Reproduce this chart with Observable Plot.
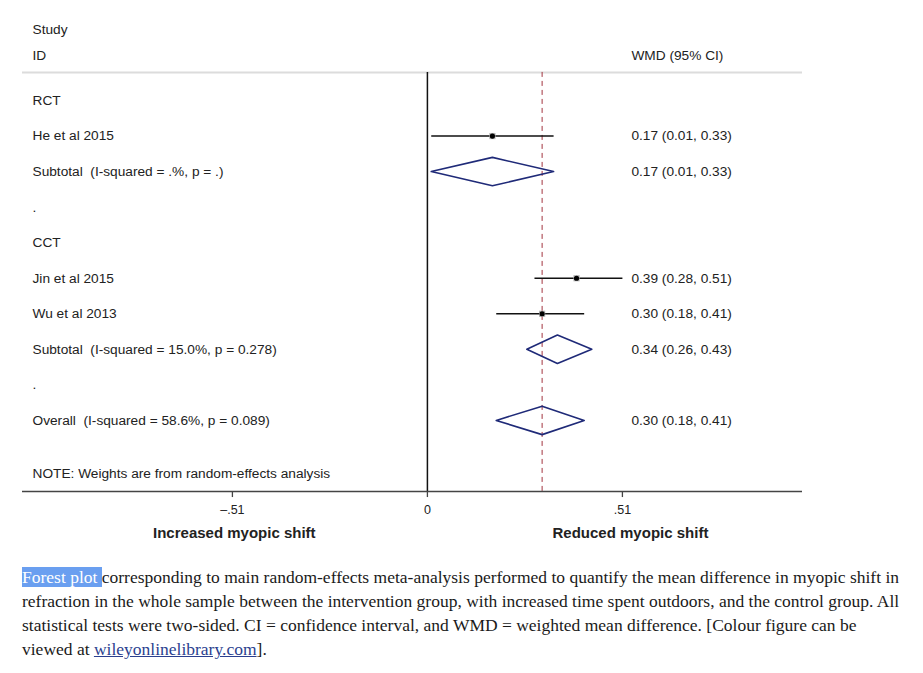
<!DOCTYPE html>
<html><head><meta charset="utf-8">
<script src="https://cdn.jsdelivr.net/npm/d3@7"></script>
<script src="https://cdn.jsdelivr.net/npm/@observablehq/plot@0.6"></script>
<style>
body{margin:0;background:#fff;}
#chart svg{display:block;}
#caption{font-family:"Liberation Serif","Times New Roman",serif;font-size:17.5px;line-height:24px;color:#1a1a1a;margin:0;padding:10px 0 0 22px;white-space:nowrap;}
#caption .hl{background:#6a9ff0;color:#fff;}
#caption a{color:#2b3f8f;text-decoration:underline;}
</style></head><body>
<div id="chart"></div>
<div id="caption"><span class="hl">Forest plot </span>corresponding to main random-effects meta-analysis performed to quantify the mean difference in myopic shift in<br>refraction in the whole sample between the intervention group, with increased time spent outdoors, and the control group. All<br>statistical tests were two-sided. CI = confidence interval, and WMD = weighted mean difference. [Colour figure can be<br>viewed at <a href="#">wileyonlinelibrary.com</a>].</div>
<script>
// Row labels (left column), top to bottom
const rowLabels = [
  "RCT",
  "He et al 2015",
  "Subtotal\u00a0 (I-squared = .%, p = .)",
  ".",
  "CCT",
  "Jin et al 2015",
  "Wu et al 2013",
  "Subtotal\u00a0 (I-squared = 15.0%, p = 0.278)",
  ".",
  "Overall\u00a0 (I-squared = 58.6%, p = 0.089)"
];
// Individual studies: row index, WMD, CI low, CI high
const studyRows = [1, 5, 6];
const studyEst = [0.17, 0.39, 0.30];
const studyLo  = [0.01, 0.28, 0.18];
const studyHi  = [0.33, 0.51, 0.41];
// Pooled estimates (diamonds)
const poolRows = [2, 7, 9];
const poolEst = [0.17, 0.34, 0.30];
const poolLo  = [0.01, 0.26, 0.18];
const poolHi  = [0.33, 0.43, 0.41];
const overallEst = 0.30;
// Axis
const tickValues = [-0.51, 0, 0.51];
const axisTitles = ["Increased myopic shift", "Reduced myopic shift"];

const studies = studyRows.map((r, i) => ({row: r, est: studyEst[i], lo: studyLo[i], hi: studyHi[i]}));
const pooled = poolRows.map((r, i) => ({row: r, est: poolEst[i], lo: poolLo[i], hi: poolHi[i]}));
const rows = rowLabels.map((label, i) => ({row: i, label}));
const ciText = d => `${d.est.toFixed(2)} (${d.lo.toFixed(2)}, ${d.hi.toFixed(2)})`;
const estLabels = [...studies, ...pooled].map(d => ({row: d.row, label: ciText(d)}));

const dh = 0.4; // diamond half-height in row units
const diamondPts = pooled.flatMap((d, k) => [
  {k, x: d.lo, y: d.row}, {k, x: d.est, y: d.row - dh},
  {k, x: d.hi, y: d.row}, {k, x: d.est, y: d.row + dh}
]);

const rightCol = 0.5335;
const headerRule = -0.79;
const axisRow = 11;

const fmtTick = d => d === 0 ? "0" : (d < 0 ? "\u2013" : "") + d3.format(".2f")(Math.abs(d)).replace(/^0/, "");

const chart = Plot.plot({
  width: 923, height: 555,
  marginLeft: 22, marginRight: 121, marginTop: 0, marginBottom: 64,
  x: {domain: [-1.059, 0.981], axis: null},
  y: {domain: [0, 11], range: [100, 491], axis: null},
  style: {fontFamily: "'Liberation Sans', Arial, Helvetica, sans-serif", fontSize: "13.7px", color: "#222", background: "#fff"},
  marks: [
    Plot.ruleY([headerRule], {stroke: "#dcdcdc", strokeWidth: 2}),
    Plot.ruleX([0], {y1: headerRule, y2: axisRow, stroke: "#111", strokeWidth: 1.5}),
    Plot.ruleX([overallEst], {y1: headerRule, y2: axisRow, stroke: "#a3343f", strokeWidth: 1, strokeDasharray: "5,4"}),
    Plot.link(studies, {x1: "lo", x2: "hi", y1: "row", y2: "row", stroke: "#111", strokeWidth: 1.5}),
    Plot.dot(studies, {x: "est", y: "row", symbol: "square", r: 3.5, fill: "#b5b5b5"}),
    Plot.dot(studies, {x: "est", y: "row", r: 2.6, fill: "#000"}),
    Plot.line(diamondPts, {x: "x", y: "y", z: "k", curve: "linear-closed", stroke: "#1f2a78", strokeWidth: 1.6, fill: "none"}),
    Plot.text(rows, {frameAnchor: "left", dx: 10, y: "row", text: "label", textAnchor: "start", fill: "#222"}),
    Plot.text(estLabels, {x: () => rightCol, y: "row", text: "label", textAnchor: "start", fill: "#222"}),
    Plot.text(["Study", "ID"], {frameAnchor: "left", dx: 10, y: [-2.0, -1.27], text: d => d, textAnchor: "start", fill: "#222"}),
    Plot.text(["WMD (95% CI)"], {x: () => rightCol, y: () => -1.27, text: d => d, textAnchor: "start", fill: "#222"}),
    Plot.text(["NOTE: Weights are from random-effects analysis"], {frameAnchor: "left", dx: 10, y: () => 10.49, text: d => d, textAnchor: "start", fill: "#222"}),
    Plot.ruleY([axisRow], {stroke: "#444", strokeWidth: 1.5}),
    Plot.ruleX(tickValues, {y1: axisRow, y2: axisRow + 0.17, stroke: "#444", strokeWidth: 1.3}),
    Plot.text(tickValues, {x: d => d, y: () => 11.53, text: fmtTick, fontSize: 12.5, fill: "#222"}),
    Plot.text(axisTitles, {x: [-0.505, 0.531], y: () => 12.18, text: d => d, fontWeight: "bold", fontSize: 15, fill: "#222"})
  ]
});
document.getElementById("chart").appendChild(chart);
</script>
</body></html>
